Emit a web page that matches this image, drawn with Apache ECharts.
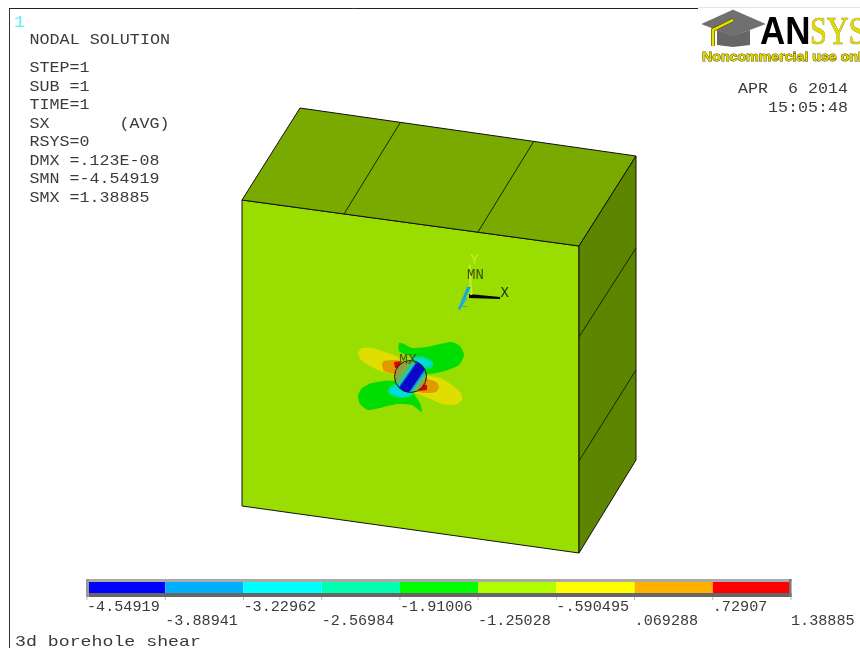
<!DOCTYPE html>
<html><head><meta charset="utf-8">
<style>html,body{margin:0;padding:0;background:#fff}#c{width:860px;height:648px}</style>
<script src="https://cdn.jsdelivr.net/npm/echarts@6/dist/echarts.min.js"></script>
</head><body><div id="c"></div>
<script>
// Contour scale
const bandEdges = [-4.54919,-3.88941,-3.22962,-2.56984,-1.91006,-1.25028,-0.590495,0.069288,0.72907,1.38885];
const bandLabels = ['-4.54919','-3.88941','-3.22962','-2.56984','-1.91006','-1.25028','-.590495','.069288','.72907','1.38885'];
const bandColors = ['#0000ff','#00b0ff','#00ffff','#00ffb0','#00ff00','#b0ff00','#ffff00','#ffb000','#ff0000'];
// Model geometry
const frontFace = [[242,200],[579,246],[579,553],[242,506]];
const topFace = [[242,200],[300,108],[636,156],[579,246]];
const sideFace = [[579,246],[636,156],[636,460],[579,553]];
const meshLines = [[[344,214],[400,123]],[[478,232],[534,141]],[[579,337],[636,248]],[[579,461],[636,370]]];
// Contour regions
const greenUpper = [[399,343],[404,344],[412,348],[427,347],[440,344],[452,342],[460,346],[464,355],[459,365],[445,371],[425,374],[422,363],[414,357],[404,354],[399,351]];
const greenLower = [[358,396],[362,388],[372,383],[385,381],[397,381],[407,383],[414,394],[420,403],[422,412],[412,405],[397,404],[380,408],[368,410],[360,404]];
const yellowLeft = [[358,353],[362,348],[372,348],[385,352],[398,357],[403,363],[396,375],[383,372],[370,366],[361,360]];
const yellowRight = [[425,376],[440,378],[452,385],[461,393],[462,400],[455,405],[442,404],[428,398],[414,391]];
const orangeLeft = [[382,364],[384,361],[395,360],[403,362],[396,374],[384,371]];
const orangeRight = [[424,379],[436,382],[439,387],[436,392],[424,393],[416,391]];
const tealUpper = [[411,357],[425,357],[433,362],[432,368],[423,368],[414,363]];
const cyanUpper = [[413,358],[424,359],[431,363],[429,366],[422,365],[416,361]];
const tealLower = [[389,388],[395,384],[410,389],[413,395],[403,398],[395,397],[388,393]];
const cyanLower = [[391,389],[396,386],[408,391],[411,394],[403,397],[396,395],[390,392]];
const redLeft = [[394,362],[402,361],[399,368],[395,368]];
const redRight = [[421,384],[427,385],[427,390],[419,391]];
// Borehole
const holeCenter = [410.5,376.5];
const holeRadius = 16;
const stripeEdges = [-18,-9.5,-7,-5,-3.5,-2.5,8,9.5,11.5,13.5,18];
const stripeColors = ['#9a9c3c','#6db44e','#2fc28e','#22c8c8','#0a62e0','#0808cc','#1a88e8','#25c8b0','#70bc48','#c08a28'];
// Triad
const triadX = [[469,294],[500,297],[500,299],[469,298]];
const triadY = [[468.5,265],[470.5,265],[472.5,295],[470,295]];
const triadZ = [[467,287],[471,287],[464,301],[460,310],[458,309]];
// Logo
const hatTop = [[702,24],[733,10],[765,24],[733,36]];
const hatBase = [[717,30],[733,36],[750,30],[750,45],[733,47],[717,45]];
const hatTassel = [[733,20],[713,30],[713,46]];

const leftText = ['NODAL SOLUTION','STEP=1','SUB =1','TIME=1','SX       (AVG)','RSYS=0','DMX =.123E-08','SMN =-4.54919','SMX =1.38885'];
const leftY = [40,68,87,105,124,142,161,179,198];

const poly = (name,pts,fill,extra) => ({name,pts,fill,...extra});
const shapes = [
  poly('front',frontFace,'#9add00',{stroke:'#111',lw:1}),
  poly('top',topFace,'#79aa00',{stroke:'#111',lw:1}),
  poly('side',sideFace,'#5d8500',{stroke:'#111',lw:1}),
  poly('gu',greenUpper,'#00dd00',{smooth:.2}),
  poly('gl',greenLower,'#00dd00',{smooth:.2}),
  poly('yl',yellowLeft,'#e0dd00',{smooth:.2}),
  poly('yr',yellowRight,'#e0dd00',{smooth:.2}),
  poly('ol',orangeLeft,'#e09a00',{smooth:.2}),
  poly('or',orangeRight,'#e09a00',{smooth:.2}),
  poly('tu',tealUpper,'#00dd99',{smooth:.2}),
  poly('cu',cyanUpper,'#00dddd',{smooth:.2}),
  poly('tl',tealLower,'#00dd99',{smooth:.2}),
  poly('cl',cyanLower,'#00dddd',{smooth:.2}),
  poly('rl',redLeft,'#dd0000',{}),
  poly('rr',redRight,'#dd0000',{})
];

const mono = '"Liberation Mono"';
const T = (text,x,y,o={}) => ({text,x,y,size:15,sx:1.1,fill:'#3a3a3a',align:'left',...o});
const texts = [
  T('1',14,22,{fill:'#60f0f4',size:17}),
  ...leftText.map((t,i)=>T(t,29.5,leftY[i],{sx:i===0?1.115:1.11})),
  T('APR  6 2014',848,89,{align:'right',sx:1.11}),
  T('15:05:48',848,108,{align:'right',sx:1.11}),
  T('3d borehole shear',15,642,{sx:1.215}),
  T('MX',399,360,{size:15,sx:1,fill:'#4a5a10'}),
  T('MN',467,275,{size:14,sx:1,fill:'#3c4c08'}),
  T('X',500.5,293,{size:14,sx:1,fill:'#1c2c00'}),
  T('Y',470,260,{size:15,sx:1,fill:'#c4ee20'}),
  T('Z',460.5,304,{size:12,sx:1,fill:'#30a8e0'})
];

const chart = echarts.init(document.getElementById('c'),null,{renderer:'canvas'});
const hidden = {show:false};
chart.setOption({
  animation:false,
  backgroundColor:'#fff',
  grid:[{left:0,right:0,top:0,bottom:0},{left:87,width:704,top:582,height:11}],
  xAxis:[
    {type:'value',min:0,max:860,gridIndex:0,...hidden},
    {type:'value',min:bandEdges[0],max:bandEdges[9],gridIndex:1,...hidden}
  ],
  yAxis:[
    {type:'value',min:0,max:648,inverse:true,gridIndex:0,...hidden},
    {type:'value',min:0,max:1,gridIndex:1,...hidden}
  ],
  series:[
    {type:'custom',xAxisIndex:0,yAxisIndex:0,clip:false,silent:true,z:1,data:[0],
     renderItem:(p,api)=>{
       const c=(x,y)=>api.coord([x,y]);
       const line=(a,b,stroke,w)=>({type:'line',shape:{x1:a[0],y1:a[1],x2:b[0],y2:b[1]},style:{stroke,lineWidth:w}});
       return {type:'group',children:[
         line(c(9.5,8),c(9.5,648),'#333',1),
         line(c(9,8.5),c(698,8.5),'#222',1),
         line(c(698,7.5),c(860,7.5),'#e4e4e4',1)
       ]};
     }},
    {type:'custom',xAxisIndex:0,yAxisIndex:0,clip:false,silent:true,z:2,data:shapes.map((s,i)=>i),
     renderItem:(p,api)=>{
       const s=shapes[api.value(0)];
       return {type:'polygon',shape:{points:s.pts.map(q=>api.coord(q)),smooth:s.smooth||0},
         style:{fill:s.fill,stroke:s.stroke||null,lineWidth:s.lw||0}};
     }},
    {type:'custom',xAxisIndex:0,yAxisIndex:0,clip:false,silent:true,z:3,data:meshLines.map((s,i)=>i),
     renderItem:(p,api)=>{
       const m=meshLines[api.value(0)],a=api.coord(m[0]),b=api.coord(m[1]);
       return {type:'line',shape:{x1:a[0],y1:a[1],x2:b[0],y2:b[1]},style:{stroke:'#1a2400',lineWidth:1}};
     }},
    {type:'custom',xAxisIndex:0,yAxisIndex:0,clip:false,silent:true,z:4,data:stripeColors.map((s,i)=>i),
     renderItem:(p,api)=>{
       const i=api.value(0),n=[0.82,0.57],d=[0.57,-0.82],L=22;
       const pt=(t,l)=>api.coord([holeCenter[0]+t*n[0]+l*d[0],holeCenter[1]+t*n[1]+l*d[1]]);
       const c=api.coord(holeCenter);
       return {type:'group',clipPath:{type:'circle',shape:{cx:c[0],cy:c[1],r:holeRadius}},children:[
         {type:'polygon',shape:{points:[pt(stripeEdges[i],-L),pt(stripeEdges[i+1],-L),pt(stripeEdges[i+1],L),pt(stripeEdges[i],L)]},
          style:{fill:stripeColors[i],stroke:stripeColors[i],lineWidth:.5}}
       ]};
     }},
    {type:'custom',xAxisIndex:0,yAxisIndex:0,clip:false,silent:true,z:5,data:[0],
     renderItem:(p,api)=>{
       const c=api.coord(holeCenter);
       return {type:'circle',shape:{cx:c[0],cy:c[1],r:holeRadius},style:{fill:null,stroke:'#1a1a1a',lineWidth:1}};
     }},
    {type:'custom',xAxisIndex:0,yAxisIndex:0,clip:false,silent:true,z:6,data:[0,1,2],
     renderItem:(p,api)=>{
       const i=api.value(0);
       return {type:'polygon',shape:{points:[triadX,triadY,triadZ][i].map(q=>api.coord(q))},
         style:{fill:['#000','#c0f020','#12a8e8'][i]}};
     }},
    {type:'custom',xAxisIndex:1,yAxisIndex:1,clip:false,silent:true,z:7,data:bandColors.map((c,i)=>[bandEdges[i],bandEdges[i+1],i]),
     encode:{x:[0,1]},
     renderItem:(p,api)=>{
       const a=api.coord([api.value(0),1]),b=api.coord([api.value(1),0]);
       return {type:'rect',shape:{x:a[0],y:a[1],width:b[0]-a[0],height:b[1]-a[1]},style:{fill:bandColors[api.value(2)]}};
     }},
    {type:'custom',xAxisIndex:0,yAxisIndex:0,clip:false,silent:true,z:8,data:[0,1,2,3],
     renderItem:(p,api)=>{
       const r=[[86,579,705.5,3,'#aaaaaa'],[86,593,705.5,4,'#666666'],[86,579,3,18,'#999999'],[789,579,2.5,18,'#777777']][api.value(0)];
       const a=api.coord([r[0],r[1]]),b=api.coord([r[0]+r[2],r[1]+r[3]]);
       return {type:'rect',shape:{x:a[0],y:a[1],width:b[0]-a[0],height:b[1]-a[1]},style:{fill:r[4]}};
     }},
    {type:'custom',xAxisIndex:1,yAxisIndex:1,clip:false,silent:true,z:9,data:bandEdges.map((v,i)=>[v,i]),
     encode:{x:0},
     renderItem:(p,api)=>{
       const i=api.value(1),a=api.coord([api.value(0),0]);
       const y=i%2?621.5:607.5;
       return {type:'group',children:[
         {type:'line',shape:{x1:a[0],y1:597,x2:a[0],y2:600},style:{stroke:'#bbbbbb',lineWidth:1}},
         {type:'text',x:a[0],y,scaleX:1.01,style:{text:bandLabels[i],fontFamily:mono,fontSize:15,fill:'#3a3a3a',textAlign:'left',textVerticalAlign:'middle'}}
       ]};
     }},
    {type:'custom',xAxisIndex:0,yAxisIndex:0,clip:false,silent:true,z:10,data:texts.map((t,i)=>i),
     renderItem:(p,api)=>{
       const t=texts[api.value(0)],c=api.coord([t.x,t.y]);
       return {type:'text',x:c[0],y:c[1],scaleX:t.sx,style:{text:t.text,fontFamily:mono,fontSize:t.size,fill:t.fill,textAlign:t.align,textVerticalAlign:'middle'}};
     }},
    {type:'custom',xAxisIndex:0,yAxisIndex:0,clip:false,silent:true,z:11,data:[0],
     renderItem:(p,api)=>{
       const c=(q)=>api.coord(q);
       const a=c([760,33.5]),s=c([810,33.5]),n=c([702,57]);
       return {type:'group',children:[
         {type:'polygon',shape:{points:hatBase.map(c)},style:{fill:'#666666'}},
         {type:'polygon',shape:{points:hatTop.map(c)},style:{fill:'#707070',stroke:'#555',lineWidth:.5}},
         {type:'polyline',shape:{points:hatTassel.map(c)},style:{fill:null,stroke:'#6a6400',lineWidth:4}},
         {type:'polyline',shape:{points:hatTassel.map(c)},style:{fill:null,stroke:'#e8e000',lineWidth:2.5}},
         {type:'text',x:a[0],y:a[1],scaleX:0.92,style:{text:'AN',fontFamily:'"Liberation Sans"',fontWeight:'bold',fontSize:38,fill:'#000',textAlign:'left',textVerticalAlign:'middle'}},
         {type:'text',x:s[0],y:s[1],scaleX:0.74,style:{text:'SYS',fontFamily:'"Liberation Serif"',fontSize:41,fill:'#e0d800',stroke:'#706800',lineWidth:.6,textAlign:'left',textVerticalAlign:'middle'}},
         {type:'text',x:n[0],y:n[1],scaleX:1.05,style:{text:'Noncommercial use only',fontFamily:'"Liberation Sans"',fontWeight:'bold',fontSize:13.5,fill:'#e0d800',stroke:'#5a5000',lineWidth:.9,textAlign:'left',textVerticalAlign:'middle'}}
       ]};
     }}
  ]
});
</script></body></html>
